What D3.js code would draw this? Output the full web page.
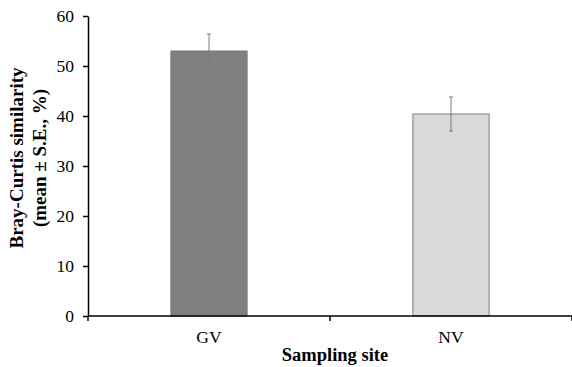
<!doctype html>
<html>
<head>
    <meta charset="utf-8" />
    <title>Bray-Curtis similarity</title>
    <style>
        body { margin: 0; background: #fff; }
        text { font-family: "Liberation Serif", "Times New Roman", serif; }
    </style>
</head>
<body>
    <svg id="chart"></svg>
    <script src="https://cdn.jsdelivr.net/npm/d3@7"></script>
    <script>
        const sites = ["GV", "NV"];
        const means = [53.0, 40.4];
        const errors = [3.4, 3.4];
        const fills = ["#808080", "#d9d9d9"];
        const yTicks = [0, 10, 20, 30, 40, 50, 60];

        const width = 572, height = 367;
        const margin = {top: 16, right: 0, bottom: 51, left: 88};

        const svg = d3.select("#chart")
            .attr("width", width)
            .attr("height", height);

        const x = d3.scaleBand()
            .domain(sites)
            .range([margin.left, width - margin.right])
            .paddingInner(0)
            .paddingOuter(0);

        const y = d3.scaleLinear()
            .domain([0, 60])
            .range([height - margin.bottom, margin.top]);

        const barW = x.bandwidth() * 0.315;

        const data = sites.map((s, i) => ({site: s, mean: means[i], se: errors[i], fill: fills[i]}));

        // bars
        svg.append("g")
            .selectAll("rect")
            .data(data)
            .join("rect")
            .attr("x", d => x(d.site) + x.bandwidth() / 2 - barW / 2)
            .attr("y", d => y(d.mean))
            .attr("width", barW)
            .attr("height", d => y(0) - y(d.mean))
            .attr("fill", d => d.fill)
            .attr("stroke", (d, i) => i === 0 ? "#787878" : "#7f7f7f")
            .attr("stroke-width", 1);

        // error bars
        const err = svg.append("g")
            .attr("stroke", "#7a7a7a")
            .attr("stroke-width", 1)
            .selectAll("g")
            .data(data)
            .join("g")
            .attr("transform", d => `translate(${x(d.site) + x.bandwidth() / 2},0)`);
        err.append("line")
            .attr("y1", d => y(d.mean + d.se))
            .attr("y2", d => y(d.mean - d.se));
        err.append("line")
            .attr("x1", -2).attr("x2", 2)
            .attr("y1", d => y(d.mean + d.se))
            .attr("y2", d => y(d.mean + d.se));
        err.append("line")
            .attr("x1", -2).attr("x2", 2)
            .attr("y1", d => y(d.mean - d.se))
            .attr("y2", d => y(d.mean - d.se));

        // y axis
        const yAxis = svg.append("g")
            .attr("transform", `translate(${margin.left},0)`)
            .call(d3.axisLeft(y).tickValues(yTicks).tickSize(5).tickPadding(9).tickSizeOuter(0));
        yAxis.select(".domain").attr("stroke", "#000").attr("stroke-width", 1.5);
        yAxis.selectAll(".tick line").attr("stroke", "#000").attr("stroke-width", 1.5);
        yAxis.selectAll(".tick text")
            .attr("font-size", 17.5)
            .attr("fill", "#000");

        // x axis with boundary ticks
        const xAxis = svg.append("g")
            .attr("transform", `translate(0,${y(0)})`);
        xAxis.append("line")
            .attr("x1", margin.left).attr("x2", width)
            .attr("stroke", "#000").attr("stroke-width", 1.5);
        const bounds = [x(sites[0]), x(sites[1]), x(sites[1]) + x.bandwidth()];
        xAxis.selectAll("line.tk")
            .data(bounds)
            .join("line")
            .attr("class", "tk")
            .attr("x1", d => d).attr("x2", d => d)
            .attr("y1", 0).attr("y2", 5)
            .attr("stroke", "#000").attr("stroke-width", 1.5);
        xAxis.selectAll("text")
            .data(sites)
            .join("text")
            .attr("x", d => x(d) + x.bandwidth() / 2)
            .attr("y", 27)
            .attr("text-anchor", "middle")
            .attr("font-size", 17.5)
            .text(d => d);

        // axis titles
        svg.append("text")
            .attr("x", 335)
            .attr("y", 361)
            .attr("text-anchor", "middle")
            .attr("font-size", 18.5)
            .attr("font-weight", "bold")
            .text("Sampling site");

        const yTitle = svg.append("text")
            .attr("transform", `translate(0,158) rotate(-90)`)
            .attr("text-anchor", "middle")
            .attr("font-size", 19)
            .attr("font-weight", "bold");
        yTitle.append("tspan").attr("x", 0).attr("y", 23).text("Bray-Curtis similarity");
        yTitle.append("tspan").attr("x", 0).attr("y", 46).text("(mean ± S.E., %)");
    </script>
</body>
</html>
